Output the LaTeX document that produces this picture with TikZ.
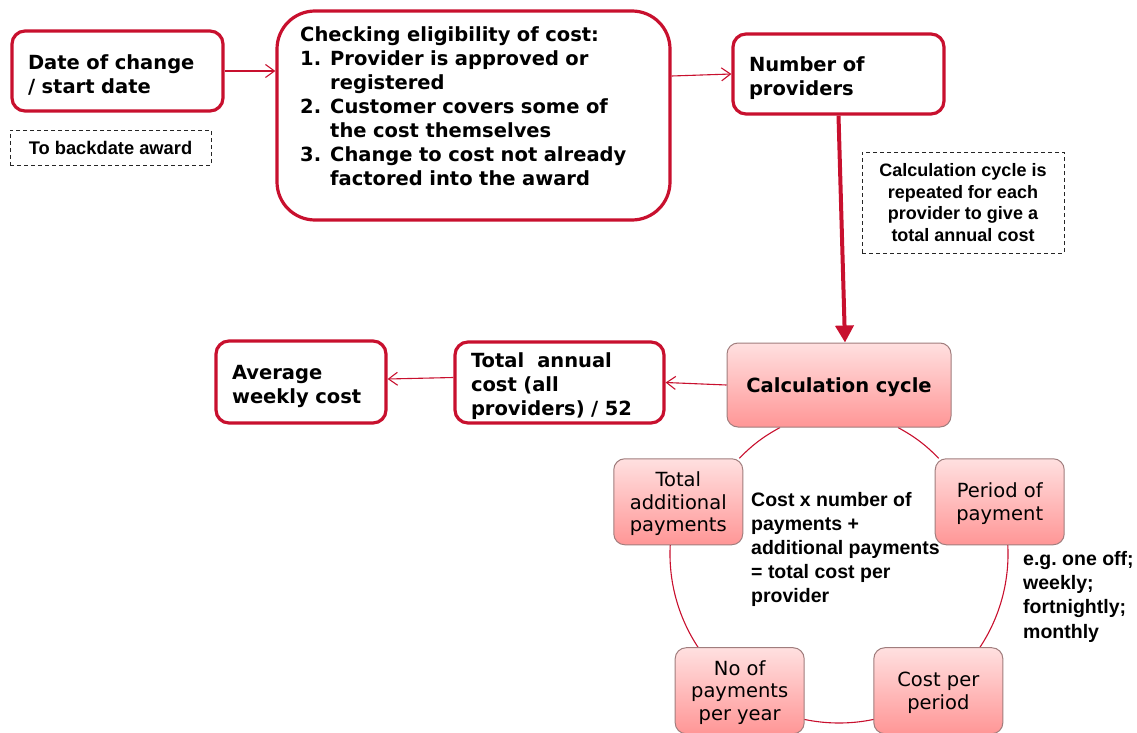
\documentclass[tikz,border=0pt]{standalone}
\usepackage{fontspec}
\setmainfont{DejaVu Sans}
\newfontfamily\arialf{Liberation Sans}
\usetikzlibrary{arrows.meta,calc}
\pgfdeclarelayer{background}
\pgfsetlayers{background,main}
\definecolor{cred}{RGB}{200,16,46}
\definecolor{pinktop}{RGB}{255,224,224}
\definecolor{pinkbot}{RGB}{255,150,150}
\definecolor{pinkedge}{RGB}{160,125,125}
\newcommand{\toppad}{\rule{0pt}{22.5pt}}
\newcommand{\cycpad}{\rule{0pt}{18.5pt}}
\frenchspacing
\begin{document}
\begin{tikzpicture}[x=1pt,y=-1pt,
  redbox/.style={draw=cred,line width=3.2pt,rounded corners=13pt,fill=white,inner xsep=16pt,inner ysep=0pt,align=left,font=\bfseries\fontsize{19.5}{24}\selectfont},
  btext/.style={inner sep=0pt,align=left,font=\bfseries\fontsize{19.5}{24}\selectfont},
  dbox/.style={draw=black!85,line width=0.9pt,dash pattern=on 4pt off 3pt,align=center,inner sep=0pt,font=\arialf\bfseries\fontsize{18}{21.7}\selectfont},
  pinkbox/.style={draw=pinkedge,line width=1pt,rounded corners=11pt,top color=pinktop,bottom color=pinkbot,align=center,inner sep=0pt},
  cycnode/.style={pinkbox,minimum width=129pt,minimum height=86pt,font=\fontsize{19.5}{22.5}\selectfont},
  note/.style={anchor=north west,inner sep=0pt,align=left,font=\arialf\bfseries\fontsize{19.5}{24}\selectfont},
  thinarrow/.style={draw=cred,line width=1.1pt,-{Straight Barb[length=9pt,width=13pt]}},
  cycline/.style={draw=cred,line width=1.1pt}
]
\useasboundingbox (0,0) rectangle (1137,733);

\node[redbox,minimum width=211pt,minimum height=80pt,text width=179pt] (date) at (117.5,71) {\toppad Date of change\\/ start date};
\node[dbox,minimum width=201pt,minimum height=35pt,font=\arialf\bfseries\fontsize{18.3}{21.7}\selectfont] (back) at (110.5,147.5) {To backdate award};

\node[redbox,rounded corners=38pt,minimum width=393pt,minimum height=209pt] (check) at (473.5,115.5) {};
\node[btext,anchor=north west,text width=360pt] (checkt) at (300,26.5) {Checking eligibility of cost:\\
\makebox[30pt][l]{1.}Provider is approved or\\
\hspace*{30pt}registered\\
\makebox[30pt][l]{2.}Customer covers some of\\
\hspace*{30pt}the cost themselves\\
\makebox[30pt][l]{3.}Change to cost not already\\
\hspace*{30pt}factored into the award};

\node[redbox,minimum width=211pt,minimum height=80pt,text width=179pt] (num) at (838.5,74) {\toppad Number of\\providers};
\node[dbox,minimum width=202pt,minimum height=101pt] (rep) at (963,202.5) {Calculation cycle is\\repeated for each\\provider to give a\\total annual cost};

\node[pinkbox,minimum width=224pt,minimum height=84pt,font=\bfseries\fontsize{19.5}{24}\selectfont] (calc) at (839,385) {\cycpad Calculation cycle};
\node[redbox,minimum width=209pt,minimum height=81pt,text width=177pt] (total) at (559.5,382.5) {\toppad Total\ \ annual\\cost (all\\providers) / 52};
\node[redbox,minimum width=170pt,minimum height=82pt,text width=138pt] (avg) at (301,382) {\toppad Average\\weekly cost};

\coordinate (cc) at (839,554);
\node[cycnode] (tadd) at ($(cc)+(162:169pt)$) {\cycpad Total\\additional\\payments};
\node[cycnode] (per) at ($(cc)+(18:169pt)$) {\cycpad Period of\\payment};
\node[cycnode] (cpp) at ($(cc)+(-54:169pt)$) {\cycpad Cost per\\period};
\node[cycnode] (nop) at ($(cc)+(234:169pt)$) {\cycpad No of\\payments\\per year};

\node[note] (formula) at (751,492) {Cost x number of\\payments +\\additional payments\\= total cost per\\provider};
\node[note,font=\arialf\bfseries\fontsize{19.5}{24.3}\selectfont] (eg) at (1023,551) {e.g. one off;\\weekly;\\fortnightly;\\monthly};

\draw[thinarrow] (date.east) -- (date.east -| check.west);
\draw[thinarrow] ($(check.east |- num.west)+(0,2)$) -- (num.west);
\draw[thinarrow] (calc.west) -- (total.east);
\draw[thinarrow] ($(total.west)+(0,-5)$) -- ($(avg.east)+(0,-3)$);
\draw[line width=4pt,cred,-{Triangle[length=17pt,width=18pt]}] (num.south) -- ($(calc.north)+(6,0)$);

\begin{pgfonlayer}{background}
\draw[cycline] (tadd.center) arc[start angle=162,end angle=234,radius=169pt];
\draw[cycline] (nop.center) arc[start angle=234,end angle=306,radius=169pt];
\draw[cycline] (per.center) arc[start angle=18,end angle=-54,radius=169pt];
\draw[cycline] ($(calc.south)+(-59,0)$) to[bend right=8] ($(tadd.north east)+(-4,0)$);
\draw[cycline] ($(calc.south)+(59,0)$) to[bend left=8] ($(per.north west)+(4,0)$);
\end{pgfonlayer}
\end{tikzpicture}
\end{document}
